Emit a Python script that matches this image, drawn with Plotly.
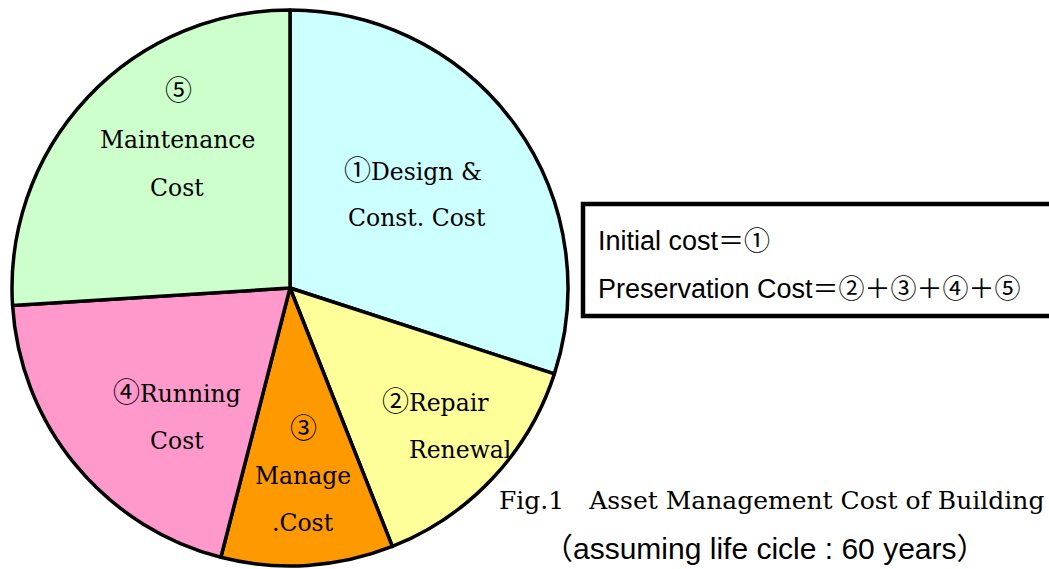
import plotly.graph_objects as go

W, H = 1049, 569

# Data (percent share of life-cycle cost)
categories = ["①Design & Const. Cost", "②Repair Renewal", "③Manage .Cost",
              "④Running Cost", "⑤Maintenance Cost"]
values = [30, 14, 10, 20, 26]
colors = ["#CCFFFF", "#FFFF99", "#FF9900", "#FF99CC", "#CCFFCC"]

# Slice label lines (text only)
label_lines = [
    ["①Design &", "Const. Cost"],
    ["②Repair", "Renewal"],
    ["③", "Manage", ".Cost"],
    ["④Running", "Cost"],
    ["⑤", "Maintenance", "Cost"],
]
label_pos = [
    [(413, 168), (417, 218)],
    [(435, 399), (460, 450)],
    [(303, 426), (303, 476), (303, 523)],
    [(177, 390), (177, 441)],
    [(178, 89), (177, 140), (177, 188)],
]

box_lines = ["Initial cost", "Preservation Cost"]
box_rhs = ["＝①", "＝②＋③＋④＋⑤"]
caption1 = "Fig.1　Asset Management Cost of Building"
caption2 = "（assuming life cicle : 60 years）"

# pie geometry in pixels
cx, cy, r = 290, 288, 278
circled = "①②③④⑤"


def px(x):
    return x / W


def py(y):
    return 1 - y / H


def big_circled(t):
    out = ""
    for ch in t:
        if ch in circled:
            out += "<span style='font-family:Noto Sans CJK JP;font-size:27px'>" + ch + "</span>"
        else:
            out += ch
    return out


fig = go.Figure()
fig.add_trace(go.Pie(
    labels=categories,
    values=values,
    sort=False,
    direction="clockwise",
    rotation=0,
    marker=dict(colors=colors, line=dict(color="black", width=3.5)),
    textinfo="none",
    hoverinfo="label+percent",
    showlegend=False,
    domain=dict(x=[px(cx - r), px(cx + r)], y=[py(cy + r), py(cy - r)]),
))

annotations = []
serif = "DejaVu Serif, Liberation Serif, Noto Sans CJK JP, serif"
for lines, poss in zip(label_lines, label_pos):
    for t, (x, y) in zip(lines, poss):
        annotations.append(dict(
            x=px(x), y=py(y), xref="paper", yref="paper", text=big_circled(t),
            showarrow=False, xanchor="center", yanchor="middle",
            font=dict(family=serif, size=23.5, color="black"),
        ))

# legend box text
box_y = [239, 286]
for t, rhs, y in zip(box_lines, box_rhs, box_y):
    annotations.append(dict(
        x=px(596), y=py(y), xref="paper", yref="paper",
        text=t + "<span style='font-family:Noto Sans CJK JP;font-size:26px'>" + rhs + "</span>",
        showarrow=False, xanchor="left", yanchor="middle",
        font=dict(family="Liberation Sans, Arial, sans-serif", size=27, color="black"),
    ))

annotations.append(dict(
    x=px(497), y=py(500), xref="paper", yref="paper", text=caption1,
    showarrow=False, xanchor="left", yanchor="middle",
    font=dict(family="DejaVu Serif, Liberation Serif, Noto Sans CJK JP, serif", size=25, color="black"),
))
annotations.append(dict(
    x=px(765), y=py(548), xref="paper", yref="paper", text=caption2,
    showarrow=False, xanchor="center", yanchor="middle",
    font=dict(family="Liberation Sans, Noto Sans CJK JP, sans-serif", size=30, color="black"),
))

fig.update_layout(
    width=W, height=H,
    margin=dict(l=0, r=0, t=0, b=0),
    paper_bgcolor="white", plot_bgcolor="white",
    annotations=annotations,
    shapes=[dict(type="rect", xref="paper", yref="paper",
                 x0=px(583), x1=px(1058), y0=py(316), y1=py(204),
                 line=dict(color="black", width=4.5), fillcolor="rgba(0,0,0,0)")],
)

fig.write_html("out.html", config={"displayModeBar": False},
               post_script="document.body.style.margin='0px';")
